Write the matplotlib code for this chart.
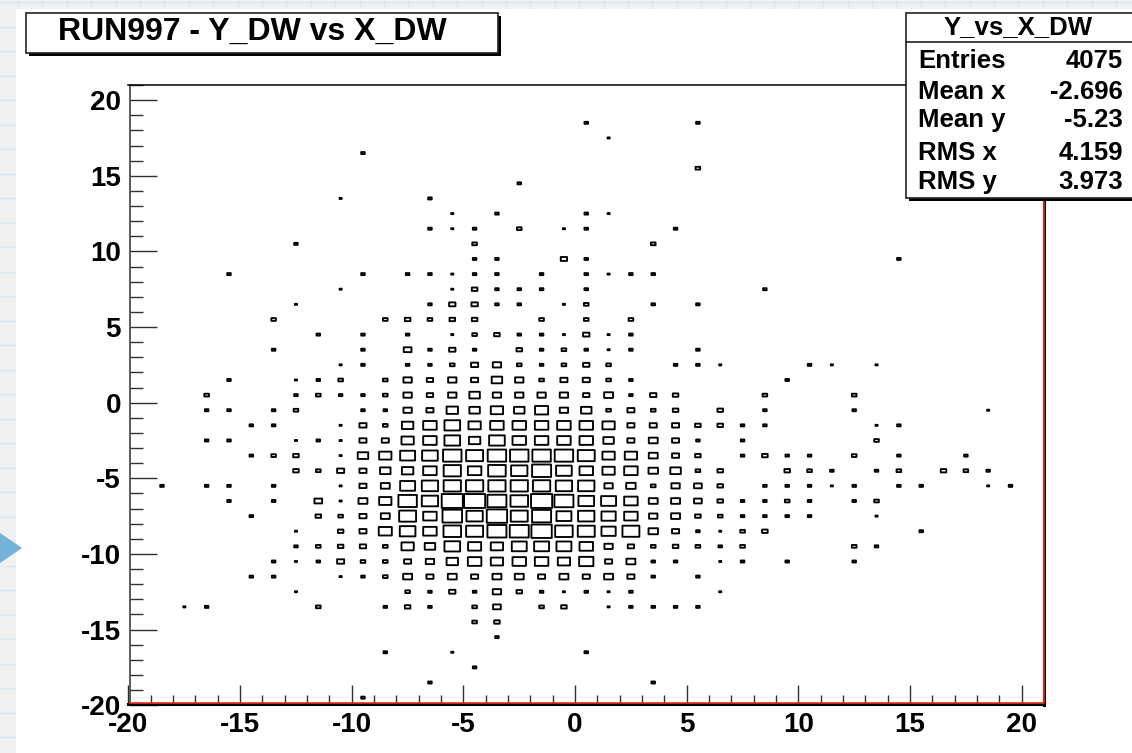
import numpy as np
import matplotlib
matplotlib.use("Agg")
import matplotlib.pyplot as plt
from matplotlib.patches import Rectangle, Polygon
from matplotlib.collections import PatchCollection
from matplotlib.lines import Line2D
from matplotlib.transforms import Affine2D
from matplotlib.ticker import MultipleLocator

plt.rcParams['font.family'] = ['Liberation Sans', 'DejaVu Sans']
plt.rcParams['font.weight'] = 'bold'
plt.rcParams['axes.unicode_minus'] = False

TITLE = "RUN997 - Y_DW vs X_DW"
STATS_NAME = "Y_vs_X_DW"
STATS_LABELS = ["Entries", "Mean x", "Mean y", "RMS x", "RMS y"]
STATS_VALUES = ["4075", "-2.696", "-5.23", "4.159", "3.973"]
PEAK_COUNT = 44

# (x bin centre, entries), one list per y bin
r_p18 = [(0.5,2),(5.5,2)]
r_p17 = [(1.5,1)]
r_p16 = [(-9.5,2)]
r_p15 = [(5.5,3)]
r_p14 = [(-2.5,2)]
r_p13 = [(-10.5,1),(-6.5,2)]
r_p12 = [(-5.5,1),(-3.5,2),(0.5,2),(1.5,1)]
r_p11 = [(-6.5,2),(-5.5,1),(-4.5,2),(-2.5,3),(-0.5,1),(0.5,2),(4.5,2)]
r_p10 = [(-12.5,2),(-4.5,3),(3.5,3)]
r_p9 = [(-4.5,2),(-3.5,2),(-0.5,5),(0.5,2),(14.5,2)]
r_p8 = [(-15.5,2),(-9.5,2),(-7.5,2),(-6.5,2),(-5.5,1),(-4.5,2),(-3.5,2),(-1.5,2),(0.5,2),(1.5,1),(2.5,2),(3.5,2)]
r_p7 = [(-10.5,1),(-5.5,1),(-4.5,4),(-3.5,2),(-2.5,2),(-1.5,2),(0.5,2),(8.5,2)]
r_p6 = [(-12.5,1),(-6.5,2),(-5.5,5),(-4.5,5),(-3.5,2),(-2.5,2),(-0.5,1),(0.5,3),(3.5,2),(5.5,2)]
r_p5 = [(-13.5,3),(-8.5,3),(-7.5,4),(-6.5,3),(-5.5,4),(-4.5,4),(-1.5,3),(0.5,3),(2.5,3)]
r_p4 = [(-11.5,2),(-9.5,2),(-7.5,2),(-5.5,1),(-4.5,3),(-3.5,4),(-2.5,2),(-1.5,2),(-0.5,1),(0.5,5),(1.5,1),(2.5,2)]
r_p3 = [(-13.5,2),(-9.5,2),(-7.5,7),(-6.5,2),(-5.5,5),(-4.5,2),(-2.5,4),(-1.5,2),(-0.5,3),(0.5,2),(1.5,1),(2.5,2),(5.5,2)]
r_p2 = [(-10.5,1),(-9.5,2),(-7.5,2),(-6.5,2),(-5.5,3),(-4.5,6),(-3.5,8),(-2.5,3),(-1.5,2),(-0.5,3),(0.5,5),(1.5,3),(4.5,2),(5.5,2),(6.5,1),(10.5,2),(11.5,1),(13.5,1)]
r_p1 = [(-15.5,2),(-12.5,1),(-11.5,2),(-10.5,3),(-8.5,3),(-7.5,8),(-6.5,5),(-5.5,8),(-4.5,6),(-3.5,12),(-2.5,8),(-1.5,3),(-0.5,6),(0.5,6),(1.5,3),(2.5,2),(9.5,2)]
r_p0 = [(-16.5,3),(-12.5,2),(-11.5,3),(-10.5,2),(-9.5,2),(-8.5,3),(-7.5,8),(-6.5,5),(-5.5,8),(-4.5,12),(-3.5,8),(-2.5,8),(-1.5,8),(-0.5,8),(0.5,5),(1.5,9),(2.5,2),(3.5,5),(4.5,4),(8.5,3),(12.5,3)]
r_m0 = [(-16.5,2),(-15.5,2),(-13.5,2),(-12.5,3),(-9.5,2),(-8.5,2),(-7.5,8),(-6.5,6),(-5.5,14),(-4.5,12),(-3.5,16),(-2.5,12),(-1.5,18),(-0.5,8),(0.5,12),(1.5,3),(2.5,6),(3.5,3),(4.5,4),(6.5,4),(8.5,2),(12.5,2),(18.5,1)]
r_m1 = [(-14.5,2),(-13.5,2),(-10.5,1),(-9.5,6),(-8.5,3),(-7.5,14),(-6.5,19),(-5.5,25),(-4.5,16),(-3.5,19),(-2.5,19),(-1.5,19),(-0.5,19),(0.5,19),(1.5,16),(2.5,6),(3.5,6),(4.5,6),(5.5,4),(6.5,4),(7.5,2),(8.5,2),(13.5,1),(14.5,2)]
r_m2 = [(-16.5,2),(-15.5,2),(-12.5,1),(-11.5,2),(-10.5,1),(-9.5,6),(-8.5,6),(-7.5,16),(-6.5,19),(-5.5,25),(-4.5,14),(-3.5,25),(-2.5,19),(-1.5,19),(-0.5,19),(0.5,19),(1.5,12),(2.5,6),(3.5,9),(4.5,6),(5.5,2),(7.5,2),(13.5,3)]
r_m3 = [(-14.5,2),(-13.5,3),(-12.5,4),(-10.5,1),(-9.5,12),(-8.5,16),(-7.5,23),(-6.5,25),(-5.5,34),(-4.5,29),(-3.5,34),(-2.5,34),(-1.5,34),(-0.5,34),(0.5,29),(1.5,16),(2.5,16),(3.5,9),(4.5,6),(5.5,4),(7.5,2),(8.5,4),(9.5,2),(10.5,2),(12.5,3),(14.5,2),(17.5,2)]
r_m4 = [(-12.5,4),(-11.5,3),(-10.5,6),(-9.5,6),(-8.5,12),(-7.5,14),(-6.5,19),(-5.5,30),(-4.5,19),(-3.5,31),(-2.5,27),(-1.5,36),(-0.5,25),(0.5,19),(1.5,16),(2.5,19),(3.5,10),(4.5,12),(5.5,3),(6.5,4),(9.5,4),(10.5,3),(11.5,2),(13.5,2),(14.5,3),(16.5,4),(17.5,3),(18.5,2)]
r_m5 = [(-18.5,2),(-16.5,2),(-15.5,2),(-13.5,2),(-10.5,1),(-9.5,6),(-8.5,9),(-7.5,23),(-6.5,27),(-5.5,30),(-4.5,30),(-3.5,30),(-2.5,30),(-1.5,30),(-0.5,27),(0.5,27),(1.5,8),(2.5,10),(3.5,3),(4.5,8),(5.5,7),(6.5,4),(8.5,2),(9.5,2),(10.5,2),(11.5,1),(12.5,2),(14.5,2),(15.5,2),(18.5,1),(19.5,2)]
r_m6 = [(-15.5,2),(-13.5,2),(-11.5,7),(-10.5,1),(-9.5,9),(-8.5,16),(-7.5,34),(-6.5,27),(-5.5,44),(-4.5,44),(-3.5,36),(-2.5,31),(-1.5,44),(-0.5,36),(0.5,25),(1.5,23),(2.5,19),(3.5,9),(4.5,9),(5.5,7),(6.5,4),(7.5,2),(8.5,2),(9.5,3),(10.5,2),(12.5,2),(13.5,3)]
r_m7 = [(-14.5,2),(-11.5,4),(-10.5,3),(-9.5,6),(-8.5,9),(-7.5,29),(-6.5,19),(-5.5,38),(-4.5,27),(-3.5,41),(-2.5,29),(-1.5,36),(-0.5,23),(0.5,27),(1.5,21),(2.5,19),(3.5,8),(4.5,9),(5.5,4),(6.5,3),(7.5,2),(8.5,2),(9.5,2),(10.5,2),(13.5,1)]
r_m8 = [(-12.5,1),(-10.5,4),(-9.5,6),(-8.5,18),(-7.5,25),(-6.5,19),(-5.5,31),(-4.5,29),(-3.5,36),(-2.5,36),(-1.5,41),(-0.5,31),(0.5,29),(1.5,21),(2.5,29),(3.5,10),(4.5,6),(5.5,2),(6.5,1),(7.5,3),(8.5,4),(15.5,2)]
r_m9 = [(-12.5,2),(-11.5,3),(-10.5,4),(-9.5,5),(-8.5,3),(-7.5,16),(-6.5,12),(-5.5,25),(-4.5,18),(-3.5,16),(-2.5,23),(-1.5,23),(-0.5,23),(0.5,19),(1.5,8),(2.5,5),(3.5,3),(4.5,4),(5.5,3),(6.5,2),(7.5,3),(12.5,3),(13.5,2)]
r_m10 = [(-13.5,2),(-12.5,1),(-11.5,2),(-10.5,6),(-9.5,3),(-8.5,3),(-7.5,6),(-6.5,8),(-5.5,14),(-4.5,19),(-3.5,16),(-2.5,19),(-1.5,19),(-0.5,16),(0.5,21),(1.5,6),(2.5,9),(3.5,2),(4.5,2),(6.5,1),(7.5,2),(9.5,2),(12.5,2)]
r_m11 = [(-14.5,2),(-13.5,2),(-10.5,1),(-9.5,2),(-8.5,3),(-7.5,9),(-6.5,6),(-5.5,9),(-4.5,6),(-3.5,9),(-2.5,9),(-1.5,6),(-0.5,9),(0.5,6),(1.5,9),(2.5,6),(3.5,2),(5.5,2)]
r_m12 = [(-12.5,1),(-7.5,3),(-6.5,2),(-5.5,5),(-4.5,2),(-3.5,8),(-2.5,4),(-1.5,2),(-0.5,1),(0.5,2),(1.5,1),(2.5,2),(6.5,1)]
r_m13 = [(-17.5,1),(-16.5,2),(-11.5,3),(-8.5,2),(-7.5,4),(-6.5,2),(-4.5,3),(-3.5,7),(-1.5,3),(-0.5,4),(1.5,1),(2.5,2),(3.5,2),(4.5,2),(5.5,2)]
r_m14 = [(-4.5,3),(-3.5,4)]
r_m15 = [(-3.5,2)]
r_m16 = [(-8.5,2),(-5.5,1),(0.5,2)]
r_m17 = [(-4.5,2)]
r_m18 = [(-6.5,2),(3.5,2)]
r_m19 = [(-9.5,2)]

y_bins = [18.5,17.5,16.5,15.5,14.5,13.5,12.5,11.5,10.5,9.5,8.5,7.5,6.5,5.5,4.5,3.5,2.5,1.5,0.5,
          -0.5,-1.5,-2.5,-3.5,-4.5,-5.5,-6.5,-7.5,-8.5,-9.5,-10.5,-11.5,-12.5,-13.5,-14.5,-15.5,-16.5,-17.5,-18.5,-19.5]
rows = [r_p18,r_p17,r_p16,r_p15,r_p14,r_p13,r_p12,r_p11,r_p10,r_p9,r_p8,r_p7,r_p6,r_p5,r_p4,r_p3,r_p2,r_p1,r_p0,
        r_m0,r_m1,r_m2,r_m3,r_m4,r_m5,r_m6,r_m7,r_m8,r_m9,r_m10,r_m11,r_m12,r_m13,r_m14,r_m15,r_m16,r_m17,r_m18,r_m19]

W, H = 1132, 753
fig = plt.figure(figsize=(W/100, H/100), dpi=100, facecolor='#f1f1f1')
px = Affine2D().scale(1, -1).translate(0, H)   # pixel coordinates, y downward

# notebook-paper backdrop
GRID = '#dce9f0'
for gy in np.arange(2, H, 24.5):
    fig.add_artist(Line2D([0, W], [gy, gy], transform=px, color=GRID, lw=1, zorder=-6))
for gx in np.arange(18, W, 24.4):
    fig.add_artist(Line2D([gx, gx], [0, H], transform=px, color=GRID, lw=1, zorder=-6))
fig.add_artist(Rectangle((16, 9), W-16, H-9, transform=px, fc='white', ec='none', zorder=-5))
fig.add_artist(Polygon([(0, 533), (22, 548), (0, 563)], closed=True, transform=px, fc='#72b2d8', ec='none', zorder=-4))

L, R, T, B = 128.5, 1044, 85, 705.2
ax = fig.add_axes([L/W, 1-B/H, (R-L)/W, (B-T)/H], facecolor='none')
ax.set_xlim(-20, 21)
ax.set_ylim(-20, 21)

# box area follows the bin content; part of the outline width is taken off
sx_px = (R-L)/41
sy_px = (B-T)/41
boxes = []
for yc, row in zip(y_bins, rows):
    for xc, cnt in row:
        s = np.sqrt(cnt / PEAK_COUNT)
        w = max(s - 1.2/sx_px, 0.05)
        h = max(s - 1.2/sy_px, 0.05)
        boxes.append(Rectangle((xc - w/2, yc - h/2), w, h))
pc = PatchCollection(boxes, facecolor='none', edgecolor='black', linewidth=1.35)
pc.set_snap(False)
ax.add_collection(pc)

TK = '#303030'
ax.xaxis.set_major_locator(MultipleLocator(5))
ax.xaxis.set_minor_locator(MultipleLocator(1))
ax.yaxis.set_major_locator(MultipleLocator(5))
ax.yaxis.set_minor_locator(MultipleLocator(1))
ax.tick_params(axis='x', which='major', direction='in', length=14, width=1.0, color=TK, labelsize=20, pad=6)
ax.tick_params(axis='x', which='minor', direction='in', length=6.8, width=1.0, color=TK)
ax.tick_params(axis='y', which='major', direction='in', length=19.5, width=1.0, color=TK, labelsize=20, pad=6.5)
ax.tick_params(axis='y', which='minor', direction='in', length=9.5, width=1.0, color=TK)
ax.set_xticks(np.arange(-20, 21, 5))
ax.set_yticks(np.arange(-20, 21, 5))
for lab in ax.get_xticklabels() + ax.get_yticklabels():
    lab.set_fontweight('bold')

ax.spines['left'].set_position(('outward', -1.08))
ax.spines['bottom'].set_position(('outward', -0.85))
ax.spines['left'].set_linewidth(1.1)
ax.spines['left'].set_color('#303030')
ax.spines['top'].set_linewidth(1.1)
ax.spines['bottom'].set_linewidth(2.2)
ax.spines['right'].set_linewidth(2.2)
# red core of the bottom and right frame lines
fig.add_artist(Line2D([130, 1044, 1044], [703.4, 703.4, 200], transform=px, color='#e8321a', lw=1.2, zorder=1))

def framed(x0, y0, x1, y1):
    fig.add_artist(Rectangle((x0+3, y0+3), x1-x0, y1-y0, transform=px, fc='black', ec='none', zorder=4))
    fig.add_artist(Rectangle((x0, y0), x1-x0, y1-y0, transform=px, fc='white', ec='#222222', lw=1.2, zorder=5))

# title box
framed(26, 13, 498, 52.5)
fig.text(252, H-32, TITLE, transform=Affine2D(), fontsize=23, fontweight='bold', ha='center', va='center', zorder=6)

# statistics box
framed(906, 13, 1150, 198)
fig.add_artist(Line2D([906, W], [42, 42], transform=px, color='#222222', lw=1.2, zorder=6))
fig.text(1018, H-27, STATS_NAME, transform=Affine2D(), fontsize=18.5, fontweight='bold', ha='center', va='center', zorder=6)
row_base = [68, 99, 127, 160, 189]
for lab, val, yb in zip(STATS_LABELS, STATS_VALUES, row_base):
    fig.text(918, H-yb, lab, transform=Affine2D(), fontsize=18.5, fontweight='bold', ha='left', va='baseline', zorder=6)
    fig.text(1123, H-yb, val, transform=Affine2D(), fontsize=18.5, fontweight='bold', ha='right', va='baseline', zorder=6)

fig.savefig('out.png', dpi=100, facecolor=fig.get_facecolor())
